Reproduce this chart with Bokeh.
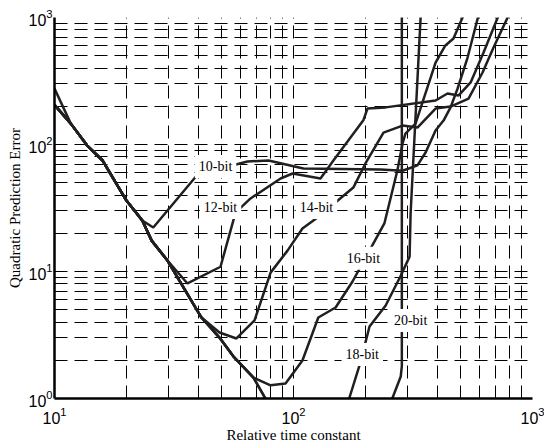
from bokeh.plotting import figure
from bokeh.models import Range1d, Label, FixedTicker, LogTickFormatter
from bokeh.embed import file_html
from bokeh.resources import INLINE

# ---- data (relative time constant, quadratic prediction error)
tau_10 = [10, 11.7, 13.7, 15.9, 20.0, 23.3, 25.9, 39.7, 64.2, 78.6, 110, 231, 286, 330, 357, 393, 425, 454, 486, 535, 594]
err_10 = [276, 146, 98, 74.8, 36.2, 25.2, 22.2, 58, 73.5, 74.8, 64.7, 63.6, 62.1, 68.4, 86.5, 129, 155, 196, 276, 484, 1037]

tau_12 = [10, 11.7, 13.7, 15.9, 20.0, 23.3, 25.5, 29.7, 36.0, 49.5, 57.2, 66.1, 88.3, 99.1, 129.7, 146.9, 196, 204, 243, 393, 441, 490, 551, 624, 721]
err_12 = [205, 146, 98, 74.8, 36.2, 25.2, 17.5, 12.2, 8.05, 10.9, 29.1, 37.6, 54.0, 59.1, 54.0, 74.8, 155, 192, 196, 222, 252, 243, 308, 530, 1037]

tau_14 = [10, 11.7, 13.7, 15.9, 20.0, 23.3, 25.5, 29.7, 41.2, 49.0, 57.7, 68.7, 80.2, 94.4, 109, 126, 178, 200, 238, 286, 330, 393, 454, 540, 618, 687, 794]
err_14 = [205, 146, 98, 74.8, 36.2, 25.2, 17.5, 12.2, 4.34, 3.31, 2.97, 4.12, 9.8, 14.6, 21.8, 26.6, 45.8, 70.9, 124, 141, 136, 192, 199, 230, 369, 581, 1037]

tau_16 = [10, 11.7, 13.7, 15.9, 20.0, 23.3, 25.5, 29.7, 41.2, 49.0, 56.1, 68.0, 80.2, 92.6, 109, 127, 150, 176.6, 240, 272, 286, 294, 324, 393, 432, 467, 514]
err_16 = [205, 146, 98, 74.8, 36.2, 25.2, 17.5, 12.2, 4.34, 3.02, 2.14, 1.46, 1.27, 1.31, 1.99, 4.34, 5.21, 8.34, 23.9, 62.4, 102, 122, 146, 442, 602, 683, 1037]

tau_18 = [10, 11.7, 13.7, 15.9, 20.0, 23.3, 25.5, 29.7, 41.2, 49.0, 56.1, 68.0, 76.3, 90, 161, 171, 190, 208, 243, 280, 306, 309, 341]
err_18 = [205, 146, 98, 74.8, 36.2, 25.2, 17.5, 12.2, 4.34, 3.02, 2.14, 1.46, 1.0, 0.7, 0.7, 1.0, 1.89, 3.69, 5.40, 9.14, 13.1, 28.6, 1080]

tau_20 = [10, 11.7, 13.7, 15.9, 20.0, 23.3, 25.5, 29.7, 41.2, 49.0, 56.1, 68.0, 76.3, 90, 241, 259, 281, 284, 284]
err_20 = [205, 146, 98, 74.8, 36.2, 25.2, 17.5, 12.2, 4.34, 3.02, 2.14, 1.46, 1.0, 0.7, 0.7, 1.0, 1.49, 1.8, 1100]

series = [(tau_10, err_10), (tau_12, err_12), (tau_14, err_14),
          (tau_16, err_16), (tau_18, err_18), (tau_20, err_20)]

curve_names = ["10-bit", "12-bit", "14-bit", "16-bit", "18-bit", "20-bit"]
name_tau = [47.2, 49.5, 124.8, 196, 194, 309]
name_err = [67.1, 31.9, 31.9, 12.7, 2.22, 4.11]

x_decades = [10, 100, 1000]
y_decades = [1, 10, 100, 1000]

x_title = "Relative time constant"
y_title = "Quadratic Prediction Error"

# ---- figure
p = figure(width=544, height=446, x_axis_type="log", y_axis_type="log",
           x_range=Range1d(10, 1000), y_range=Range1d(1, 1000),
           output_backend="svg", toolbar_location=None,
           min_border_left=54, min_border_right=12, min_border_top=17, min_border_bottom=48)
p.outline_line_color = None
p.background_fill_color = "white"


def minors(decs):
    return [m * d for d in decs[:-1] for m in range(2, 10)]


xt = FixedTicker(ticks=x_decades, minor_ticks=minors(x_decades))
yt = FixedTicker(ticks=y_decades, minor_ticks=minors(y_decades))
p.xaxis.ticker = xt
p.yaxis.ticker = yt
p.xgrid.ticker = xt
p.ygrid.ticker = yt
p.xaxis.formatter = LogTickFormatter()
p.yaxis.formatter = LogTickFormatter()

ink = "#231f20"
for g in (p.xgrid, p.ygrid):
    g.grid_line_color = "black"
    g.grid_line_dash = "13 7"
    g.grid_line_width = 1
    g.minor_grid_line_color = "black"
    g.minor_grid_line_dash = "13 7"
    g.minor_grid_line_width = 1

for ax in (p.xaxis, p.yaxis):
    ax.axis_line_color = "black"
    ax.axis_line_width = 2.5
    ax.major_tick_in = 0
    ax.major_tick_out = 0
    ax.minor_tick_in = 0
    ax.minor_tick_out = 0
    ax.major_label_text_font = "Liberation Sans"
    ax.major_label_text_font_size = "16px"
    ax.major_label_text_color = "black"
    ax.axis_label_text_font = "Liberation Serif"
    ax.axis_label_text_font_style = "normal"
    ax.axis_label_text_font_size = "15px"
    ax.axis_label_text_color = "black"

p.xaxis.axis_label = x_title
p.yaxis.axis_label = y_title
p.xaxis.major_label_standoff = 8
p.yaxis.major_label_standoff = 2
p.xaxis.axis_label_standoff = 0
p.yaxis.axis_label_standoff = 2

for xs, ys in series:
    p.line(xs, ys, line_color=ink, line_width=2.5)

for name, xv, yv in zip(curve_names, name_tau, name_err):
    p.add_layout(Label(x=xv, y=yv, text=name, text_align="center", text_baseline="middle",
                       text_font="Liberation Serif", text_font_size="14px", text_color="black",
                       background_fill_color="white", padding=4))

open("out.html", "w").write(file_html(p, INLINE))
